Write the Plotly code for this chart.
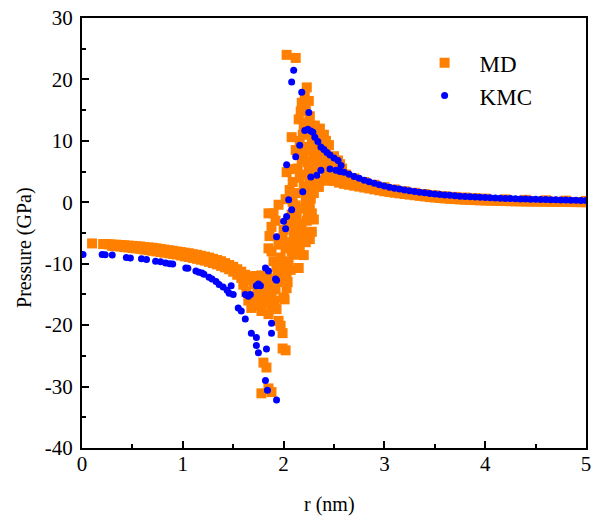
import plotly.graph_objects as go

# ---------------- data ----------------
# MD: far-field, left of the core (two overlapping rows)
md_left_r = [0.10, 0.21, 0.24, 0.27, 0.30, 0.34, 0.38, 0.42, 0.46, 0.50, 0.54, 0.58, 0.62,
             0.66, 0.70, 0.74, 0.78, 0.82, 0.86, 0.90, 0.94, 0.98, 1.02, 1.06, 1.10, 1.14,
             1.18, 1.22, 1.26, 1.30, 1.34, 1.38, 1.42, 1.46, 1.50, 1.54, 1.58]
md_left_p = [-6.7, -6.8, -6.8, -6.85, -6.9, -6.9, -6.95, -7.0, -7.05, -7.1, -7.15, -7.2, -7.3,
             -7.35, -7.4, -7.5, -7.6, -7.7, -7.8, -7.9, -8.0, -8.1, -8.2, -8.3, -8.45, -8.55,
             -8.7, -8.85, -9.0, -9.2, -9.4, -9.6, -9.9, -10.2, -10.5, -10.9, -11.3]
md_left2_r = [0.30, 0.34, 0.38, 0.42, 0.46, 0.50, 0.54, 0.58, 0.62, 0.66, 0.70, 0.74, 0.78,
              0.82, 0.86, 0.90, 0.94, 0.98, 1.02, 1.06, 1.10, 1.14, 1.18, 1.22, 1.26, 1.30,
              1.34, 1.38, 1.42, 1.46, 1.50, 1.54, 1.58]
md_left2_p = [-7.1, -7.15, -7.2, -7.3, -7.35, -7.45, -7.5, -7.6, -7.7, -7.8, -7.9, -8.0, -8.1,
              -8.2, -8.3, -8.4, -8.5, -8.65, -8.8, -8.9, -9.05, -9.2, -9.35, -9.5, -9.7, -9.9,
              -10.1, -10.35, -10.6, -10.9, -11.3, -11.8, -12.3]
# MD: core region (scattered)
md_core_r = [1.62, 1.65, 1.68, 1.70, 1.72, 1.74, 1.76, 1.78, 1.80, 1.82, 1.84, 1.86, 1.88, 1.90,
             1.92, 1.94,
             1.60, 1.63, 1.65, 1.68, 1.71, 1.74, 1.76, 1.78, 1.80, 1.83, 1.85, 1.88, 1.91, 1.93,
             1.95, 1.97, 1.99, 1.99, 2.02,
             1.80, 1.83, 1.78, 1.88, 1.85,
             2.00, 2.03, 1.98, 2.03, 2.00, 2.05, 1.97, 2.02, 2.06, 1.95, 1.99, 2.00, 2.05, 1.90,
             1.85, 1.95, 2.02, 2.06, 2.09, 2.03, 2.06, 1.88, 1.85, 1.90, 1.93, 2.08, 2.10, 2.08,
             2.12,
             2.15, 2.15, 2.20, 2.13, 2.18, 2.28, 2.23, 2.28, 2.25, 2.13, 2.12, 2.20, 2.30, 2.16,
             2.25, 2.18, 2.30, 2.22, 2.35, 2.28, 2.20, 2.15, 2.18, 2.21, 2.23, 2.08, 2.03, 2.12,
             2.24, 2.27, 2.33, 2.38, 2.40, 2.36, 2.42, 2.45, 2.48, 2.50, 2.52, 2.56, 2.58, 2.45,
             2.50, 2.55, 2.22, 2.30, 2.17, 2.27,
             2.10, 2.12, 2.14, 2.16, 2.18, 2.20, 2.22, 2.24, 2.26, 2.20, 2.14, 2.12, 2.16, 2.19,
             2.23, 2.26, 2.22, 2.25, 2.17, 2.20, 2.24, 2.27, 2.30, 2.32, 2.34, 2.36, 2.38, 2.40,
             2.42, 2.44, 2.46, 2.48, 2.52, 2.54, 2.58, 2.62, 2.35, 2.30, 2.32, 2.38, 2.42, 2.26,
             2.24, 2.20, 2.26, 2.10, 2.07, 2.04, 2.01, 1.88, 1.86, 1.92, 1.97, 2.04, 2.09, 2.28,
             2.31, 2.34, 2.29]
md_core_p = [-11.8, -12.6, -12.2, -13.3, -12.0, -14.0, -12.6, -11.9, -13.0, -14.6, -12.3, -13.7,
             -15.0, -12.6, -14.2, -11.6,
             -13.4, -14.6, -16.0, -17.2, -15.8, -15.4, -16.8, -17.7, -16.4, -15.8, -18.2, -17.0,
             -16.0, -17.4, -19.3, -20.1, -21.3, -23.8, -24.1,
             -26.1, -26.9, -31.1, -30.9, -30.3,
             -15.5, -14.0, -13.0, -12.0, -10.5, -9.6, -9.0, -7.5, -6.5, -6.9, -5.8, -4.5, -3.5,
             -1.8, -1.8, -0.4, 0.5, 2.0, 3.3, 4.9, 5.4, -8.0, -7.5, -9.6, -10.5, -8.0, -5.0,
             -2.0, -0.5,
             -10.7, -8.5, -8.6, -7.0, -5.5, -4.8, -3.0, -1.8, 0.0, -2.0, 1.5, 2.5, 3.0, 4.0,
             5.5, 7.0, 7.5, 9.0, 9.5, 11.0, 12.5, 13.5, 16.2, 17.6, 18.7, 10.6, 24.0, 23.5,
             13.0, 8.5, 6.0, 3.5, 11.0, 12.0, 8.0, 9.3, 6.6, 7.5, 5.5, 6.2, 4.5, 4.0,
             3.5, 3.2, -6.5, -2.8, -1.0, 0.6,
             -3.0, -4.5, -6.0, -7.5, -3.5, -1.0, 0.5, 2.0, 3.5, 4.5, 5.5, 8.5, 10.0, 11.0,
             12.0, 14.0, 15.5, 16.5, 14.8, 8.0, 6.5, 5.0, 4.5, 8.5, 7.0, 5.5, 8.0, 6.5,
             5.0, 6.0, 4.5, 3.5, 4.0, 6.8, 5.5, 4.5, 2.5, 1.5, 10.5, 10.0, 10.0, -0.5,
             -2.5, -5.0, -6.0, -8.5, -11.0, -13.0, -15.8, -4.0, -5.5, -3.0, -11.5, -7.0, 0.0, 9.5,
             12.5, 6.5, 2.2]
# MD: far-field, right of the core (two rows)
md_right_r = [2.60, 2.65, 2.70, 2.75, 2.80, 2.85, 2.90, 2.95, 3.00, 3.05, 3.10, 3.15, 3.20,
              3.25, 3.30, 3.35, 3.40, 3.45, 3.50, 3.55, 3.60, 3.65, 3.70, 3.75, 3.80, 3.85,
              3.90, 3.95, 4.00, 4.05, 4.10, 4.15, 4.20, 4.25, 4.30, 4.35, 4.40, 4.45, 4.50,
              4.55, 4.60, 4.65, 4.70, 4.75, 4.80, 4.85, 4.90, 4.95, 5.00]
md_right_p = [3.0, 2.85, 2.7, 2.55, 2.4, 2.25, 2.1, 1.95, 1.8, 1.68, 1.56, 1.45, 1.35,
              1.25, 1.15, 1.05, 0.95, 0.85, 0.77, 0.7, 0.63, 0.57, 0.52, 0.47, 0.43, 0.39,
              0.35, 0.32, 0.29, 0.26, 0.24, 0.22, 0.2, 0.18, 0.16, 0.15, 0.13, 0.12, 0.11,
              0.1, 0.09, 0.08, 0.07, 0.06, 0.05, 0.04, 0.03, 0.02, 0.01]
md_right2_r = [2.60, 2.70, 2.80, 2.90, 3.00, 3.10, 3.20, 3.30, 3.40, 3.50, 3.60, 3.70, 3.80,
               3.90, 4.00, 4.20, 4.40, 4.60, 4.80, 5.00]
md_right2_p = [4.5, 3.9, 3.3, 2.85, 2.45, 2.1, 1.8, 1.55, 1.35, 1.15, 1.0, 0.88, 0.78,
               0.68, 0.6, 0.48, 0.4, 0.33, 0.27, 0.22]

# KMC: left far-field and core
kmc_core_r = [0.01, 0.20, 0.23, 0.30, 0.44, 0.48, 0.59, 0.64, 0.73, 0.78, 0.83, 0.87, 0.90,
              1.03, 1.05, 1.13, 1.16, 1.19, 1.21, 1.26, 1.29, 1.33, 1.36, 1.40, 1.44, 1.46,
              1.48, 1.50, 1.55, 1.58, 1.62, 1.62, 1.65, 1.67, 1.68, 1.73, 1.73, 1.75, 1.82,
              1.84, 1.93, 1.73, 1.75, 1.77, 1.82, 1.85, 1.92, 1.93, 1.88, 1.88, 1.83, 1.93,
              2.02, 2.00, 2.03, 2.08, 2.05, 2.19, 2.03, 2.12, 2.16, 2.21, 2.25, 2.18, 2.08,
              2.10, 2.27, 2.33, 2.37, 2.46, 2.52, 2.56,
              2.24, 2.27, 2.29, 2.31, 2.34, 2.37, 2.40, 2.43, 2.46, 2.50, 2.54, 2.57]
kmc_core_p = [-8.5, -8.5, -8.55, -8.6, -9.0, -9.05, -9.2, -9.3, -9.6, -9.7, -9.9, -10.0, -10.05,
              -10.7, -10.75, -11.2, -11.4, -11.5, -11.7, -12.2, -12.5, -12.9, -13.4, -13.8,
              -14.3, -14.8, -13.6, -15.0, -17.2, -17.7, -19.0, -15.0, -15.3, -15.0, -21.3,
              -22.0, -23.3, -24.5, -29.0, -30.6, -32.2, -13.6, -13.3, -13.6, -10.7, -11.2,
              -12.5, -12.7, -19.7, -21.3, -23.9, -5.6, -4.3, -3.1, -2.3, -1.2, 0.4, 1.7, 6.1,
              7.4, 9.3, 11.7, 14.6, 17.9, 19.6, 21.5, 4.1, 4.4, 5.2, 5.4, 5.2, 5.0,
              11.9, 11.6, 11.4, 10.6, 9.9, 9.0, 8.6, 8.1, 7.7, 7.2, 6.8, 6.0]
# KMC: far-field, right of the core
kmc_right_r = [2.60, 2.65, 2.70, 2.75, 2.80, 2.85, 2.90, 2.95, 3.00, 3.05, 3.10, 3.15, 3.20,
               3.25, 3.30, 3.35, 3.40, 3.45, 3.50, 3.55, 3.60, 3.65, 3.70, 3.75, 3.80, 3.85,
               3.90, 3.95, 4.00, 4.05, 4.10, 4.15, 4.20, 4.25, 4.30, 4.35, 4.40, 4.45, 4.50,
               4.55, 4.60, 4.65, 4.70, 4.75, 4.80, 4.85, 4.90, 4.95, 5.00]
kmc_right_p = [4.9, 4.55, 4.2, 3.9, 3.6, 3.35, 3.1, 2.85, 2.65, 2.45, 2.3, 2.15, 2.0,
               1.87, 1.75, 1.64, 1.54, 1.44, 1.35, 1.27, 1.2, 1.13, 1.06, 1.0, 0.95, 0.9,
               0.85, 0.8, 0.76, 0.72, 0.69, 0.66, 0.63, 0.6, 0.57, 0.55, 0.52, 0.5, 0.48,
               0.46, 0.44, 0.42, 0.4, 0.38, 0.36, 0.34, 0.32, 0.3, 0.28]

x_ticks = [0, 1, 2, 3, 4, 5]
y_ticks = [-40, -30, -20, -10, 0, 10, 20, 30]

md_r = md_left_r + md_left2_r + md_core_r + md_right2_r + md_right_r
md_p = md_left_p + md_left2_p + md_core_p + md_right2_p + md_right_p
kmc_r = kmc_core_r + kmc_right_r
kmc_p = kmc_core_p + kmc_right_p

ORANGE = "#FF8000"
BLUE = "#0000FF"
FONT = "Liberation Serif"

fig = go.Figure()
fig.add_trace(go.Scatter(x=md_r, y=md_p, mode="markers", name="MD", legendgroup="a",
                         marker=dict(symbol="square", size=10, color=ORANGE, line=dict(width=0))))
fig.add_trace(go.Scatter(x=kmc_r, y=kmc_p, mode="markers", name="KMC", legendgroup="b",
                         marker=dict(symbol="circle", size=7, color=BLUE, line=dict(width=0))))

axis_common = dict(showgrid=False, zeroline=False, showline=True, linecolor="black",
                   linewidth=2, mirror=True, ticks="inside", ticklen=7, tickwidth=2,
                   tickcolor="black", tickfont=dict(family=FONT, size=21, color="black"))
fig.update_xaxes(range=[0, 5], tickvals=x_ticks, ticktext=[str(v) for v in x_ticks],
                 ticklabelstandoff=-4,
                 minor=dict(tickvals=[0.5, 1.5, 2.5, 3.5, 4.5], ticks="inside", ticklen=4,
                            tickwidth=2, tickcolor="black"),
                 **axis_common)
fig.update_yaxes(range=[-40, 30], tickvals=y_ticks, ticktext=[str(v) for v in y_ticks],
                 ticklabelstandoff=3,
                 minor=dict(tickvals=[-35, -25, -15, -5, 5, 15, 25], ticks="inside", ticklen=4,
                            tickwidth=2, tickcolor="black"),
                 **axis_common)

fig.update_layout(
    width=597, height=519,
    margin=dict(l=82, r=6, t=15, b=71),
    paper_bgcolor="white", plot_bgcolor="white",
    showlegend=True,
    legend=dict(x=0.65, y=0.946, xanchor="left", yanchor="top", bgcolor="rgba(0,0,0,0)",
                font=dict(family=FONT, size=23, color="black"), itemwidth=60,
                tracegroupgap=0),
    annotations=[
        dict(text="r (nm)", xref="paper", yref="paper", x=0.491, y=-0.1316,
             xanchor="center", yanchor="middle", showarrow=False,
             font=dict(family=FONT, size=20, color="black")),
        dict(text="Pressure (GPa)", xref="paper", yref="paper", x=-0.114, y=0.4665,
             xanchor="center", yanchor="middle", showarrow=False, textangle=-90,
             font=dict(family=FONT, size=20, color="black")),
    ],
)

fig.write_html("out.html")
